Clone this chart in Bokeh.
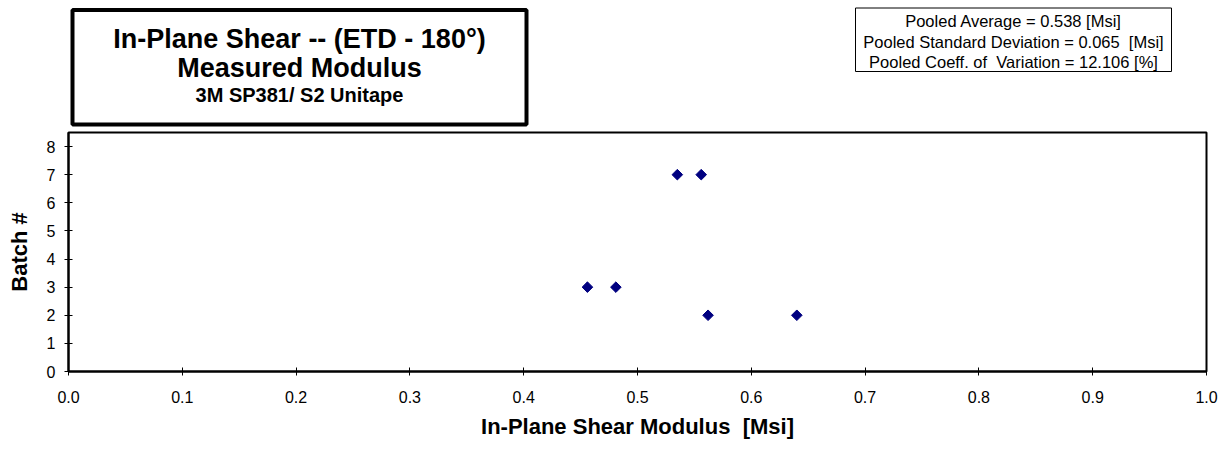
import math
from bokeh.plotting import figure
from bokeh.layouts import column
from bokeh.models import FixedTicker, Range1d, CustomJSTickFormatter
from bokeh.core.properties import value
from bokeh.embed import file_html
from bokeh.resources import INLINE

# ---- data: In-Plane Shear modulus [Msi] by batch ----
modulus = [0.456, 0.481, 0.535, 0.556, 0.562, 0.640]
batch = [3, 3, 7, 7, 2, 2]

x_ticks = [0.0, 0.1, 0.2, 0.3, 0.4, 0.5, 0.6, 0.7, 0.8, 0.9, 1.0]
y_ticks = [0, 1, 2, 3, 4, 5, 6, 7, 8]

title_lines = ["In-Plane Shear -- (ETD - 180°)", "Measured Modulus", "3M SP381/ S2 Unitape"]
stats_lines = ["Pooled Average = 0.538 [Msi]",
               "Pooled Standard Deviation = 0.065 \u00a0[Msi]",
               "Pooled Coeff. of \u00a0Variation = 12.106 [%]"]
x_label = "In-Plane Shear Modulus \u00a0[Msi]"
y_label = "Batch #"

FONT = "Liberation Sans"
W = 1218
TOTAL_H = 442
FL, FR = 68, 1206          # frame left / right (pixels)
FT, FB = 132, 371          # frame top / bottom (pixels)

# ---- header figure (title box + statistics box), coordinates in pixels ----
TOP_H = 128
h = figure(width=W, height=TOP_H, output_backend="svg", toolbar_location=None,
           x_range=Range1d(FL, FR), y_range=Range1d(TOP_H, 0),
           x_axis_type=None, y_axis_type=None,
           min_border_left=FL, min_border_right=W - FR,
           min_border_top=0, min_border_bottom=0)
h.outline_line_color = None
h.xgrid.visible = False
h.ygrid.visible = False

# title box
h.quad(left=[72], right=[526], top=[9.5], bottom=[124],
       fill_color="white", line_color="black", line_width=4)
h.text(x=[299, 299], y=[38, 67], text=title_lines[:2],
       text_font=value(FONT), text_font_style="bold", text_font_size="27px",
       text_align="center", text_baseline="middle", text_color="black")
h.text(x=[299], y=[94], text=title_lines[2:],
       text_font=value(FONT), text_font_style="bold", text_font_size="20px",
       text_align="center", text_baseline="middle", text_color="black")
# statistics box
h.quad(left=[855], right=[1171], top=[7.5], bottom=[71],
       fill_color="white", line_color="black", line_width=1)
h.text(x=[1013] * 3, y=[20, 41, 61], text=stats_lines,
       text_font=value(FONT), text_font_size="16.5px",
       text_align="center", text_baseline="middle", text_color="black")

# ---- main chart ----
MAIN_H = TOTAL_H - TOP_H
p = figure(width=W, height=MAIN_H, output_backend="svg", toolbar_location=None,
           x_range=Range1d(0, 1.0), y_range=Range1d(0, 8.5),
           min_border_left=FL, min_border_right=W - FR,
           min_border_top=FT - TOP_H, min_border_bottom=MAIN_H - (FB - TOP_H))

p.scatter(modulus, batch, marker="square", angle=math.pi / 4, size=7.5,
          fill_color="#000080", line_color="#000080")

p.xgrid.visible = False
p.ygrid.visible = False
p.outline_line_color = "black"
p.outline_line_width = 2

p.xaxis.ticker = FixedTicker(ticks=x_ticks)
p.yaxis.ticker = FixedTicker(ticks=y_ticks)
p.xaxis.formatter = CustomJSTickFormatter(code="return tick.toFixed(1);")
for ax in (p.xaxis[0], p.yaxis[0]):
    ax.axis_line_color = "black"
    ax.axis_line_width = 2
    ax.major_tick_in = 4
    ax.major_tick_out = 4
    ax.major_tick_line_color = "black"
    ax.minor_tick_line_color = None
    ax.major_label_text_font = FONT
    ax.major_label_text_font_size = "16px"
    ax.major_label_text_color = "black"
    ax.axis_label_text_font = FONT
    ax.axis_label_text_font_style = "bold"
    ax.axis_label_text_font_size = "22px"
    ax.axis_label_text_color = "black"

p.xaxis.axis_label = x_label
p.yaxis.axis_label = y_label
p.xaxis.major_label_standoff = 15
p.yaxis.major_label_standoff = 9
p.xaxis.axis_label_standoff = 8
p.yaxis.axis_label_standoff = 12

layout = column(h, p, spacing=0)
open("out.html", "w").write(file_html(layout, INLINE))
